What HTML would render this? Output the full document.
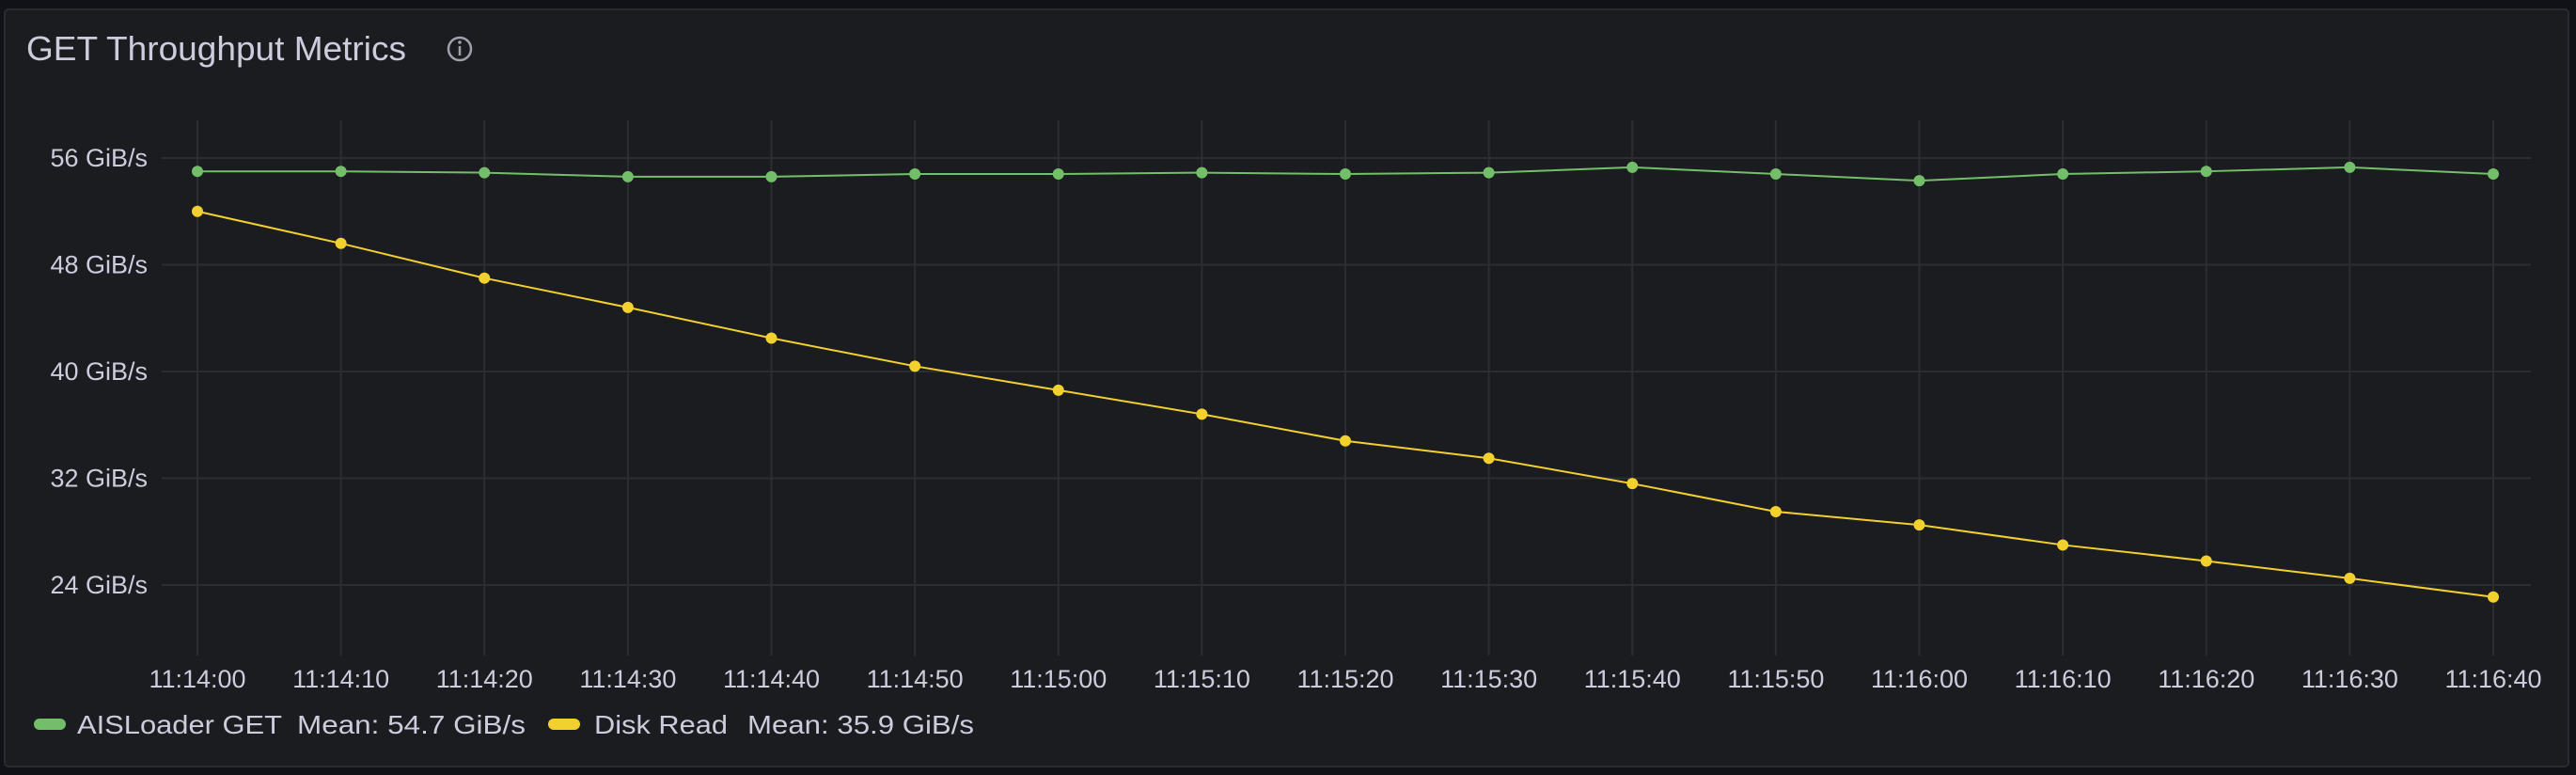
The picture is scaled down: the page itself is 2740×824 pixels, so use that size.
<!DOCTYPE html>
<html><head><meta charset="utf-8">
<style>
html,body{margin:0;padding:0;background:#111217;width:2740px;height:824px;overflow:hidden;font-family:"Liberation Sans",sans-serif;}
svg{display:block}
</style></head>
<body>
<svg id="chart" width="2740" height="824">
  <rect x="5" y="10" width="2727" height="805" rx="4" fill="#1b1c20" stroke="#2a2b30" stroke-width="2"/>
  <text x="28" y="64" font-size="36" fill="#ccccdc" textLength="404" lengthAdjust="spacingAndGlyphs">GET Throughput Metrics</text>
  <g>
    <circle cx="489" cy="52" r="12" fill="none" stroke="#9fa1ab" stroke-width="2.5"/>
    <line x1="489" y1="49" x2="489" y2="59" stroke="#9fa1ab" stroke-width="2.5"/>
    <circle cx="489" cy="45" r="1.8" fill="#9fa1ab"/>
  </g>
  <g id="grid"></g>
  <g id="series"></g>
  <g id="legend"></g>
</svg>
<script>
const xLabels = ["11:14:00","11:14:10","11:14:20","11:14:30","11:14:40","11:14:50","11:15:00","11:15:10","11:15:20","11:15:30","11:15:40","11:15:50","11:16:00","11:16:10","11:16:20","11:16:30","11:16:40"];
const yTicks = [24,32,40,48,56];
const aisGet = [55.0,55.0,54.9,54.6,54.6,54.8,54.8,54.9,54.8,54.9,55.3,54.8,54.3,54.8,55.0,55.3,54.8];
const diskRead = [52.0,49.6,47.0,44.8,42.5,40.4,38.6,36.8,34.8,33.5,31.6,29.5,28.5,27.0,25.8,24.5,23.1];
const legendNames = ["AISLoader GET","Disk Read"];
const legendMeans = ["Mean: 54.7 GiB/s","Mean: 35.9 GiB/s"];

const NS="http://www.w3.org/2000/svg";
const X0=210, X1=2652, Y56=168, Y24=622;
function xs(i){return X0+(X1-X0)*i/(xLabels.length-1);}
function ys(v){return Y24-(v-24)*(Y24-Y56)/32;}
function mk(tag,attrs,parent){const e=document.createElementNS(NS,tag);for(const k in attrs)e.setAttribute(k,attrs[k]);parent.appendChild(e);return e;}
const grid=document.getElementById('grid');
yTicks.forEach(v=>{
  const l=mk('line',{x1:172,x2:2692,y1:ys(v),y2:ys(v),stroke:'#2c2d33','stroke-width':2},grid);
  
  
  const t=mk('text',{x:157,y:ys(v)+9,'text-anchor':'end','font-size':27,fill:'#ccccdc'},grid);
  t.textContent=v+" GiB/s";
  
  
});
xLabels.forEach((lab,i)=>{
  const l=mk('line',{x1:xs(i),x2:xs(i),y1:128,y2:697,stroke:'#2c2d33','stroke-width':2},grid);
  
  
  const t=mk('text',{x:xs(i),y:731,'text-anchor':'middle','font-size':27,fill:'#ccccdc'},grid);
  t.textContent=lab;
  
  
});
const ser=document.getElementById('series');
function drawSeries(vals,color,name){
  const g=mk('g',{},ser);
  
  
  const p=mk('polyline',{points:vals.map((v,i)=>xs(i)+','+ys(v)).join(' '),fill:'none',stroke:color,'stroke-width':2},g);
  
  
  vals.forEach((v,i)=>{
    const c=mk('circle',{cx:xs(i),cy:ys(v),r:6,fill:color},g);
    
    
  });
}
drawSeries(aisGet,'#73bf69','aisloader-get-series');
drawSeries(diskRead,'#f2d02e','disk-read-series');
const leg=document.getElementById('legend');
const legX=[36,583], textX=[82,632], nameW=[218,142], colors=['#73bf69','#f2d02e'], meanX=[316,795], meanW=[243,241];
legendNames.forEach((n,i)=>{
  const g=mk('g',{},leg);
  
  
  mk('rect',{x:legX[i],y:764,width:34,height:12,rx:6,fill:colors[i]},g);
  const t=mk('text',{x:textX[i],y:780,'font-size':28,fill:'#ccccdc',textLength:nameW[i],lengthAdjust:'spacingAndGlyphs'},g);
  t.textContent=n;
  const m=mk('text',{x:meanX[i],y:780,'font-size':28,fill:'#ccccdc',textLength:meanW[i],lengthAdjust:'spacingAndGlyphs'},g);
  m.textContent=legendMeans[i];
});
</script>
</body></html>
